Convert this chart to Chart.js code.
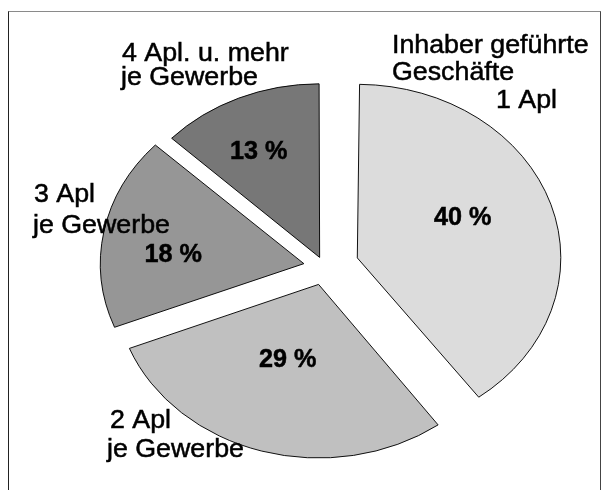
<!DOCTYPE html>
<html>
<head>
<meta charset="utf-8">
<script src="https://cdn.jsdelivr.net/npm/chart.js@4/dist/chart.umd.min.js"></script>
<style>
  html, body { margin: 0; padding: 0; background: #fff; }
  #wrap { position: relative; width: 609px; height: 490px; overflow: hidden; }
  #frame {
    position: absolute; left: 8px; top: 11px; width: 591px; height: 520px;
    border-top: 1px solid #8a8a8a; border-left: 1px solid #222; border-right: 1px solid #444;
  }
  canvas { position: absolute; left: 0; top: 0; }
</style>
</head>
<body>
<div id="wrap">
  <div id="frame"></div>
  <canvas id="pie" width="609" height="490"></canvas>
</div>
<script>
// Anteile der Geschäfte nach Arbeitsplätzen
const categories = ['Inhaber geführte Geschäfte 1 Apl', '2 Apl je Gewerbe', '3 Apl je Gewerbe', '4 Apl. u. mehr je Gewerbe'];
const values = [40, 29, 18, 13];
const sliceColors = ['#dcdcdc', '#c0c0c0', '#969696', '#777777'];

// Beschriftungen (Textzeilen je Segment)
const labelLines = [
    ['Inhaber geführte', 'Geschäfte', '1 Apl'],
    ['2 Apl', 'je Gewerbe'],
    ['3 Apl', 'je Gewerbe'],
    ['4 Apl. u. mehr', 'je Gewerbe']
];

// Layout: Explosion, Radius, Ellipse, Textpositionen
const explode = [138, 85, 84, 49];   // Chart.js teilt offset intern durch 4
const pieRadius = 203.5;
const squashY = 0.853;
const labelPos = [
    [[392, 52.7], [392, 80], [496, 108]],
    [[110, 428], [107, 457]],
    [[34, 201.7], [33, 233.3]],
    [[122, 60.7], [121, 85]]
];
const pctPos = [[434, 224.5], [259, 366.7], [144.5, 261.7], [230, 159.3]];

const ellipsePlugin = {
    id: 'ellipse',
    beforeDatasetsDraw(chart) {
        const ctx = chart.ctx;
        const meta = chart.getDatasetMeta(0);
        const R = meta.controller.outerRadius;
        // Radius-Korrektur: Chart.js vergrößert schmale Segmente beim Verschieben
        meta.data.forEach((arc, i) => {
            const off = explode[i] / 4;
            const fix = 1 - Math.sin(Math.min(Math.PI, arc.circumference));
            arc.outerRadius = R - off * fix;
        });
        const cy = (chart.chartArea.top + chart.chartArea.bottom) / 2;
        ctx.save();
        ctx.translate(0, cy);
        ctx.scale(1, squashY);
        ctx.translate(0, -cy);
    },
    afterDatasetsDraw(chart) {
        chart.ctx.restore();
    }
};

function drawText(ctx, t, x, y, sx) {
    ctx.save();
    ctx.translate(x, y);
    ctx.scale(sx, 1);
    ctx.fillText(t, 0, 0);
    ctx.strokeText(t, 0, 0);
    ctx.restore();
}

const textPlugin = {
    id: 'texte',
    afterDraw(chart) {
        const ctx = chart.ctx;
        ctx.save();
        ctx.fillStyle = '#000';
        ctx.strokeStyle = '#000';
        ctx.lineWidth = 0.5;
        ctx.textBaseline = 'alphabetic';
        ctx.textAlign = 'left';
        ctx.font = '26px "Liberation Sans", Arial, sans-serif';
        labelLines.forEach((lines, i) => {
            lines.forEach((t, j) => {
                const [x, y] = labelPos[i][j];
                drawText(ctx, t, x, y, 1.03);
            });
        });
        ctx.font = 'bold 26px "Liberation Sans", Arial, sans-serif';
        values.forEach((v, i) => {
            const [x, y] = pctPos[i];
            drawText(ctx, v + ' %', x, y, 0.97);
        });
        ctx.restore();
    }
};

new Chart(document.getElementById('pie'), {
    type: 'pie',
    data: {
        labels: categories,
        datasets: [{
            data: values,
            backgroundColor: sliceColors,
            borderColor: '#000',
            borderWidth: 1,
            borderJoinStyle: 'miter',
            offset: explode,
            hoverOffset: 0,
            clip: false
        }]
    },
    options: {
        responsive: false,
        animation: false,
        radius: pieRadius,
        layout: { padding: { left: 40, right: 0, top: 44, bottom: 0 } },
        plugins: {
            legend: { display: false },
            tooltip: { enabled: false }
        }
    },
    plugins: [ellipsePlugin, textPlugin]
});
</script>
</body>
</html>
